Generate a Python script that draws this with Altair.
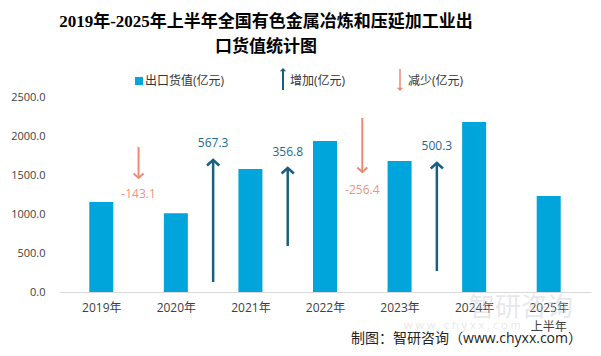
import altair as alt
import pandas as pd

years = ["2019年", "2020年", "2021年", "2022年", "2023年", "2024年", "2025年"]
export_values = [1154.1, 1011.0, 1578.3, 1935.1, 1678.7, 2179.0, 1231.0]

# changes between consecutive years (placed between the bars)
up_pos = [2, 3, 5]            # midpoint between bar i-1 and i
up_from = [128, 590, 269]
up_to = [1692, 1590, 1654]
up_label_y = [1910, 1795, 1872]
up_labels = ["567.3", "356.8", "500.3"]

down_pos = [1, 4]
down_from = [1859, 2231]
down_to = [1462, 1538]
down_label_y = [1256, 1308]
down_labels = ["-143.1", "-256.4"]

y_ticks = [0, 500, 1000, 1500, 2000, 2500]

BAR = "#00A5DB"
UP = "#18607E"
UP_TXT = "#1E6A8A"
DOWN = "#EE8A73"
DOWN_TXT = "#F0937D"
FONT = "Open Sans, Noto Sans CJK SC"

W, H = 532, 195

bars_df = pd.DataFrame({"x": [i + 0.5 for i in range(len(years))], "v": export_values, "year": years})
up_df = pd.DataFrame({"x": up_pos, "y0": up_from, "y1": up_to, "ly": up_label_y, "t": up_labels})
down_df = pd.DataFrame({"x": down_pos, "y0": down_from, "y1": down_to, "ly": down_label_y, "t": down_labels})
one = pd.DataFrame({"a": [0]})

label_expr = "[" + ",".join("'%s'" % y for y in years) + "][floor(datum.value)]"

xs = alt.Scale(domain=[0, 7], nice=False, zero=False)
ys = alt.Scale(domain=[0, 2500], nice=False)

xaxis = alt.Axis(values=[i + 0.5 for i in range(len(years))], labelExpr=label_expr, grid=False, ticks=False,
                 domainColor="#d9d9d9", domainWidth=1, labelPadding=10, labelFontSize=12,
                 labelColor="#404040", labelFont=FONT, title=None, labelOverlap=False)
yaxis = alt.Axis(values=y_ticks, format=".1f", grid=False, ticks=False, domain=False,
                 labelPadding=14, labelFontSize=11, labelColor="#404040", labelFont=FONT, title=None,
                 labelOverlap=False, labelFlush=False)

def X(f):
    return alt.X(f, scale=xs, axis=xaxis, title=None)

def Y(f):
    return alt.Y(f, scale=ys, axis=yaxis, title=None)

bars = alt.Chart(bars_df).mark_bar(size=24, color=BAR).encode(x=X("x:Q"), y=Y("v:Q"))

up_head = "M-1,0.9L0,0L1,0.9"
down_head = "M-1,-0.9L0,0L1,-0.9"

up_shaft = alt.Chart(up_df).mark_rule(color=UP, strokeWidth=2.5).encode(
    x=X("x:Q"), y=Y("y0:Q"), y2="y1:Q")
up_tip = alt.Chart(up_df).mark_point(shape=up_head, size=150, filled=False, color=UP, strokeWidth=2.5, opacity=1).encode(
    x=X("x:Q"), y=Y("y1:Q"))
up_txt = alt.Chart(up_df).mark_text(color=UP_TXT, fontSize=12, font=FONT).encode(
    x=X("x:Q"), y=Y("ly:Q"), text="t:N")

down_shaft = alt.Chart(down_df).mark_rule(color=DOWN, strokeWidth=2).encode(
    x=X("x:Q"), y=Y("y0:Q"), y2="y1:Q")
down_tip = alt.Chart(down_df).mark_point(shape=down_head, size=100, filled=False, color=DOWN, strokeWidth=2, opacity=1).encode(
    x=X("x:Q"), y=Y("y1:Q"))
down_txt = alt.Chart(down_df).mark_text(color=DOWN_TXT, fontSize=12, font=FONT).encode(
    x=X("x:Q"), y=Y("ly:Q"), text="t:N")

# "上半年" under 2025 label
half = alt.Chart(pd.DataFrame({"x": [6.5], "t": ["上半年"]})).mark_text(
    fontSize=12, font=FONT, color="#404040", baseline="middle").encode(
    x=X("x:Q"), y=alt.value(H + 35), text="t:N")

# faint watermark
wm1 = alt.Chart(one).mark_text(text="智研咨询", fontSize=26, font="Noto Sans CJK SC", color="#c9ced6",
                               opacity=0.45, align="left", baseline="middle").encode(
    x=alt.value(410), y=alt.value(H + 16))
wm2 = alt.Chart(one).mark_text(text="w w w . c h y x x . c o m", fontSize=11, font=FONT, color="#c9ced6",
                               opacity=0.45, align="left", baseline="middle").encode(
    x=alt.value(345), y=alt.value(H + 34))

# title
TFONT = "Liberation Serif, Noto Sans CJK SC"
t1 = alt.Chart(one).mark_text(text="2019年-2025年上半年全国有色金属冶炼和压延加工业出", fontSize=17, fontWeight="bold",
                              font=TFONT, color="#000000", baseline="middle").encode(
    x=alt.value(207), y=alt.value(-75))
t2 = alt.Chart(one).mark_text(text="口货值统计图", fontSize=17, fontWeight="bold",
                              font=TFONT, color="#000000", baseline="middle").encode(
    x=alt.value(207), y=alt.value(-50))

# legend
lg_sq = alt.Chart(one).mark_square(size=64, color=BAR, opacity=1).encode(x=alt.value(80), y=alt.value(-16))
lg_t1 = alt.Chart(one).mark_text(text="出口货值(亿元)", fontSize=12, font=FONT, color="#333333",
                                 align="left", baseline="middle").encode(x=alt.value(86), y=alt.value(-16))
lg_up = alt.Chart(one).mark_rule(color=UP, strokeWidth=2).encode(x=alt.value(224), y=alt.value(-28), y2=alt.value(-7))
lg_uph = alt.Chart(one).mark_point(shape="M-1,1L0,0L1,1Z", size=40, filled=True, color=UP, opacity=1).encode(
    x=alt.value(224), y=alt.value(-29))
lg_t2 = alt.Chart(one).mark_text(text="增加(亿元)", fontSize=12, font=FONT, color="#333333",
                                 align="left", baseline="middle").encode(x=alt.value(231), y=alt.value(-16))
lg_dn = alt.Chart(one).mark_rule(color=DOWN, strokeWidth=1.5).encode(x=alt.value(341), y=alt.value(-28), y2=alt.value(-7))
lg_dnh = alt.Chart(one).mark_point(shape="M-1,-1L0,0L1,-1Z", size=40, filled=True, color=DOWN, opacity=1).encode(
    x=alt.value(341), y=alt.value(-6))
lg_t3 = alt.Chart(one).mark_text(text="减少(亿元)", fontSize=12, font=FONT, color="#333333",
                                 align="left", baseline="middle").encode(x=alt.value(349), y=alt.value(-16))

# footer
foot = alt.Chart(one).mark_text(text="制图：智研咨询（www.chyxx.com）", fontSize=14, font=FONT, color="#222222",
                                align="right", baseline="middle").encode(x=alt.value(W - 9), y=alt.value(H + 47))

chart = alt.layer(
    wm1, wm2, bars, up_shaft, up_tip, up_txt, down_shaft, down_tip, down_txt, half,
    t1, t2, lg_sq, lg_t1, lg_up, lg_uph, lg_t2, lg_dn, lg_dnh, lg_t3, foot
).properties(
    width=W, height=H,
    autosize=alt.AutoSizeParams(type="none"),
    padding={"left": 51, "top": 89, "right": 2, "bottom": 56},
    background="white",
).configure_view(stroke=None)

chart.save("out.html", embed_options={"renderer": "svg", "actions": False})
